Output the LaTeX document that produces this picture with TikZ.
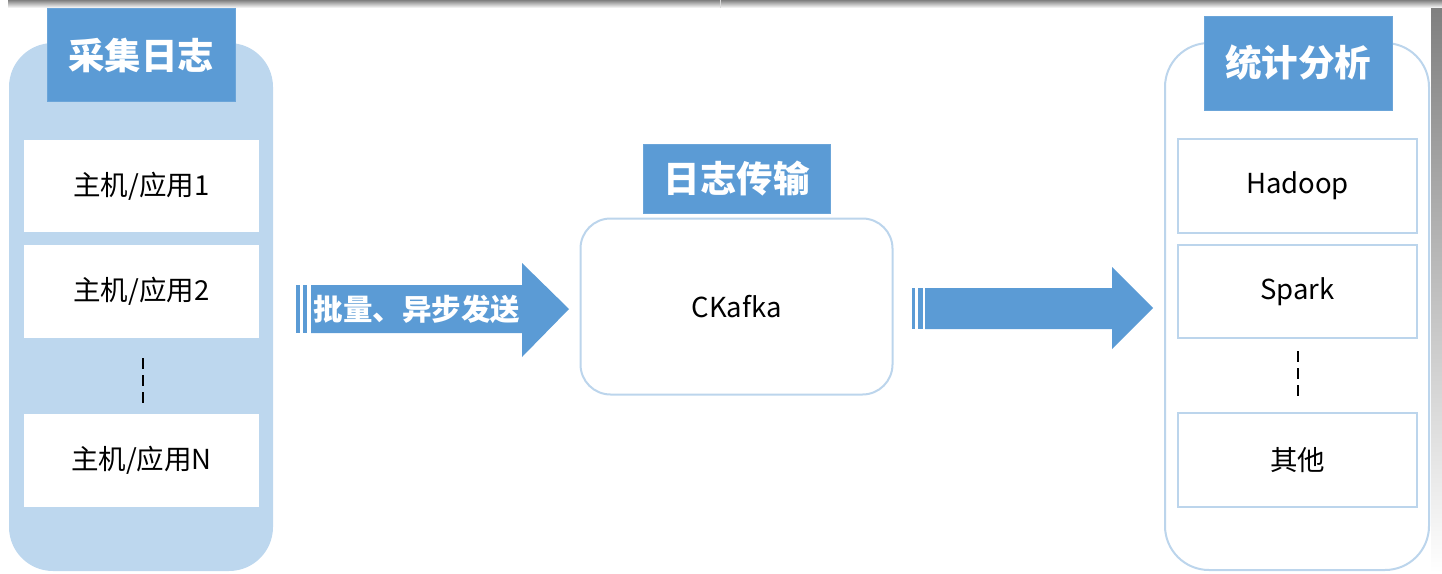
\documentclass[tikz,border=0pt]{standalone}
\usepackage{fontspec}
\setmainfont{Noto Sans CJK SC}
\definecolor{titleblue}{HTML}{5B9BD5}
\definecolor{panelblue}{HTML}{BDD7EE}
\definecolor{edgeblue}{HTML}{BCD5EC}
\definecolor{shade}{HTML}{EFEFEF}
\tikzset{
  titlebox/.style={fill=titleblue, draw=titleblue!90!white, line width=0.8pt, text=white, font=\fontsize{36.5}{40}\selectfont\bfseries, inner sep=0pt},
  itembox/.style={fill=white, inner sep=0pt, font=\fontsize{27.5}{30}\selectfont},
  framed/.style={itembox, draw=edgeblue, line width=2pt},
  dots/.style={line width=2.2pt, dash pattern=on 11pt off 6pt},
  blockarrow/.style={fill=titleblue},
}
\begin{document}
\begin{tikzpicture}[x=1pt,y=-1pt]
\useasboundingbox (0,0) rectangle (1442,573);
% screenshot shading
\fill[shade] (8,0) rectangle (1442,8);
\fill[shade] (1431,8) rectangle (1442,573);
\draw[gray!30, line width=0.6pt] (720,0) -- (720,8);

% left panel
\fill[panelblue, rounded corners=44pt] (9,43) rectangle (273,571);
\node[titlebox, minimum width=188pt, minimum height=93pt] (t1) at (141,55) {采集日志};
\node[itembox, minimum width=235pt, minimum height=92pt] (h1) at (141.5,186) {主机/应用1};
\node[itembox, minimum width=235pt, minimum height=93pt] (h2) at (141.5,291) {主机/应用2};
\node[itembox, minimum width=235pt, minimum height=93pt] (hn) at (141.5,460.5) {主机/应用N};
\coordinate (d1a) at (143,358);
\coordinate (d1b) at (143,404);
\draw[dots] (d1a) -- (d1b);

% arrow 1
\fill[titleblue] (296,285) rectangle (300,333);
\fill[titleblue] (302.5,285) rectangle (307,333);
\fill[blockarrow] (311,285) -- (522,285) -- (522,263) -- (569,309) -- (522,357) -- (522,333) -- (311,333) -- cycle;
\node[text=white, font=\fontsize{29.5}{32}\selectfont\bfseries, inner sep=0pt] (a1) at (417,309) {批量、异步发送};

% middle
\node[framed, draw=edgeblue, rounded corners=30pt, minimum width=312pt, minimum height=176pt] (kafka) at (736.5,306.5) {CKafka};
\node[titlebox, minimum width=187pt, minimum height=69pt] (t2) at (736.5,178.5) {日志传输};

% arrow 2
\fill[titleblue] (912,288) rectangle (915,329);
\fill[titleblue] (918,288) rectangle (922.5,329);
\fill[blockarrow] (925,288) -- (1112,288) -- (1112,267) -- (1153,308) -- (1112,349) -- (1112,329) -- (925,329) -- cycle;

% right panel
\draw[edgeblue, line width=2pt, fill=white, rounded corners=44pt] (1165,43) rectangle (1429,570);
\node[titlebox, minimum width=188pt, minimum height=94pt] (t3) at (1298,63) {统计分析};
\node[framed, minimum width=239pt, minimum height=94pt] (s1) at (1297.5,186) {Hadoop};
\node[framed, minimum width=239pt, minimum height=93pt] (s2) at (1297.5,291.5) {Spark};
\node[framed, minimum width=239pt, minimum height=94pt] (s3) at (1297.5,460) {其他};
\coordinate (d2a) at (1298,351);
\coordinate (d2b) at (1298,397);
\draw[dots] (d2a) -- (d2b);
\end{tikzpicture}
\end{document}
